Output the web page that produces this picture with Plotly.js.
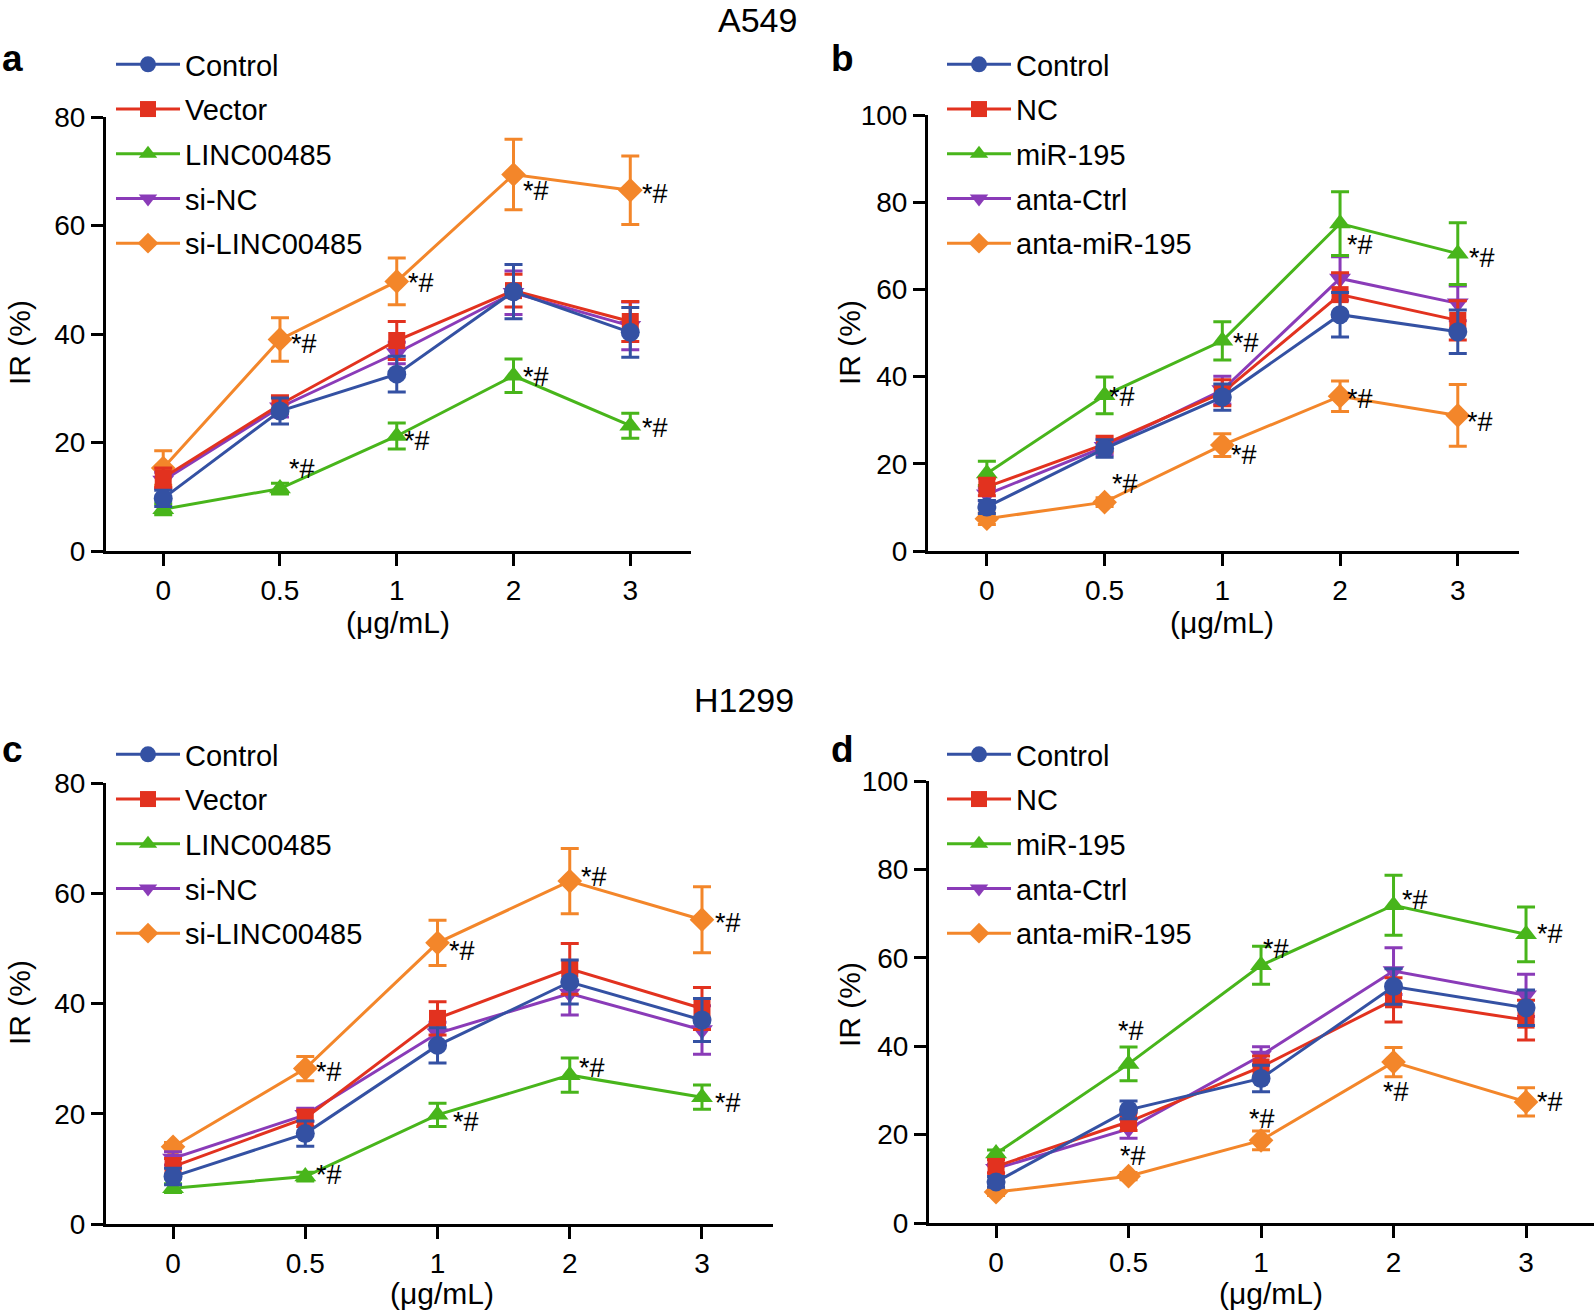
<!DOCTYPE html>
<html><head><meta charset="utf-8">
<script src="https://cdn.plot.ly/plotly-3.0.1.min.js"></script>
<style>html,body{margin:0;padding:0;background:#fff}#chart{width:1594px;height:1312px}</style>
</head><body><div id="chart"></div>
<script>
// ---------- data ----------
const doseLabels = ["0", "0.5", "1", "2", "3"];
const sigLabel = "*#";

// Panel a (A549, LINC00485)
const aNames = ["Control", "Vector", "LINC00485", "si-NC", "si-LINC00485"];
const aControl = [9.7, 25.8, 32.6, 47.8, 40.3];
const aControlErr = [1.5, 2.4, 3.3, 5.0, 4.6];
const aVector = [13.5, 27.0, 38.8, 48.0, 42.3];
const aVectorErr = [1.8, 1.6, 3.5, 3.0, 3.7];
const aLinc = [7.7, 11.5, 21.2, 32.3, 23.1];
const aLincErr = [1.0, 1.0, 2.4, 3.1, 2.3];
const aSiNC = [13.0, 26.5, 36.5, 47.6, 41.5];
const aSiNCErr = [1.5, 1.8, 2.0, 4.0, 4.4];
const aSiLinc = [15.3, 39.0, 49.7, 69.4, 66.5];
const aSiLincErr = [3.2, 4.0, 4.3, 6.5, 6.3];

// Panel b (A549, miR-195)
const bNames = ["Control", "NC", "miR-195", "anta-Ctrl", "anta-miR-195"];
const bControl = [10.1, 23.5, 35.3, 54.2, 50.3];
const bControlErr = [1.5, 2.0, 3.0, 5.1, 5.0];
const bNC = [14.7, 24.5, 36.3, 58.8, 52.9];
const bNCErr = [2.0, 1.8, 3.0, 5.0, 4.5];
const bMiR = [17.8, 35.7, 48.2, 75.1, 68.2];
const bMiRErr = [2.8, 4.2, 4.4, 7.3, 7.1];
const bAntaCtrl = [13.0, 23.9, 36.9, 62.5, 56.8];
const bAntaCtrlErr = [1.5, 1.8, 3.2, 5.0, 4.0];
const bAntaMiR = [7.4, 11.2, 24.3, 35.5, 31.1];
const bAntaMiRErr = [1.3, 1.0, 2.6, 3.5, 7.1];

// Panel c (H1299, LINC00485)
const cNames = ["Control", "Vector", "LINC00485", "si-NC", "si-LINC00485"];
const cControl = [8.6, 16.4, 32.4, 43.9, 37.0];
const cControlErr = [1.5, 2.3, 3.2, 4.0, 3.9];
const cVector = [10.4, 19.2, 37.3, 46.3, 39.1];
const cVectorErr = [1.5, 1.5, 3.0, 4.6, 3.8];
const cLinc = [6.5, 8.6, 19.8, 27.0, 23.0];
const cLincErr = [0.8, 0.8, 2.1, 3.1, 2.2];
const cSiNC = [11.9, 19.8, 34.6, 41.8, 35.2];
const cSiNCErr = [1.2, 1.2, 2.0, 3.9, 4.4];
const cSiLinc = [14.0, 28.2, 51.0, 62.2, 55.2];
const cSiLincErr = [0.8, 2.2, 4.1, 5.9, 6.0];

// Panel d (H1299, miR-195)
const dNames = ["Control", "NC", "miR-195", "anta-Ctrl", "anta-miR-195"];
const dControl = [9.3, 25.6, 32.7, 53.5, 48.7];
const dControlErr = [1.2, 2.0, 3.0, 4.0, 4.0];
const dNC = [12.8, 22.9, 35.3, 50.5, 45.9];
const dNCErr = [1.5, 2.0, 2.5, 5.0, 4.5];
const dMiR = [15.7, 36.0, 58.3, 71.9, 65.3];
const dMiRErr = [0.8, 3.8, 4.3, 6.8, 6.2];
const dAntaCtrl = [12.3, 21.3, 37.9, 57.0, 51.5];
const dAntaCtrlErr = [1.0, 2.1, 2.0, 5.3, 4.8];
const dAntaMiR = [7.0, 10.6, 18.7, 36.4, 27.4];
const dAntaMiRErr = [0.8, 0.8, 2.1, 3.3, 3.2];

// points marked "*#" (indices into doseLabels), for series 2 and 4 in each panel
const sigPoints = [1, 2, 3, 4];

// ---------- styles ----------
const FONT = "Liberation Sans, Arial, Helvetica, sans-serif";
const colors = ["#3451a3", "#e2321f", "#48b51b", "#8a3bb8", "#f3862a"];
const symbols = ["circle", "square", "triangle-up", "triangle-down", "diamond"];
const msizes = [19, 17, 19, 19, 19];
// draw order: bottom -> top (index into series)
const drawOrder = [4, 3, 2, 1, 0];

// pixel shifts [xshift, yshift] for the "*#" marks, per panel, for series 2 and 4
const sigShift = {
  a: {2: [[22, 20], [20, -5], [22, -1], [25, -2]], 4: [[24, -5], [24, -2], [22, -16], [25, -4]]},
  b: {2: [[17, -2], [24, -2], [20, -21], [24, -4]], 4: [[20, 18], [22, -10], [20, -3], [22, -7]]},
  c: {2: [[24, 2], [28, -7], [22, 7], [26, -6]], 4: [[24, -3], [24, -8], [24, 4], [26, -3]]},
  d: {2: [[2, 33], [15, 16], [21, 5], [24, 0]], 4: [[4, 20], [1, 21], [2, -30], [24, 0]]}
};

const W = 1594, H = 1312;
const px = v => v / W;
const py = v => 1 - v / H;

const panels = [
  {key: "a", xa: "x", ya: "y", legend: "legend", names: aNames,
   vals: [aControl, aVector, aLinc, aSiNC, aSiLinc],
   errs: [aControlErr, aVectorErr, aLincErr, aSiNCErr, aSiLincErr],
   xdom: [106, 691], ydom: [117, 551], xr: [-0.49, 4.52], ymax: 80,
   leg: [111, 39], xt: [398, 622], yt: [19, 343], letter: [12, 59]},
  {key: "b", xa: "x2", ya: "y2", legend: "legend2", names: bNames,
   vals: [bControl, bNC, bMiR, bAntaCtrl, bAntaMiR],
   errs: [bControlErr, bNCErr, bMiRErr, bAntaCtrlErr, bAntaMiRErr],
   xdom: [928, 1519], ydom: [115, 551], xr: [-0.5, 4.52], ymax: 100,
   leg: [942, 39], xt: [1222, 622], yt: [849, 343], letter: [843, 59]},
  {key: "c", xa: "x3", ya: "y3", legend: "legend3", names: cNames,
   vals: [cControl, cVector, cLinc, cSiNC, cSiLinc],
   errs: [cControlErr, cVectorErr, cLincErr, cSiNCErr, cSiLincErr],
   xdom: [106, 773], ydom: [783, 1224], xr: [-0.507, 4.537], ymax: 80,
   leg: [111, 729], xt: [442, 1293], yt: [19, 1003], letter: [12, 749]},
  {key: "d", xa: "x4", ya: "y4", legend: "legend4", names: dNames,
   vals: [dControl, dNC, dMiR, dAntaCtrl, dAntaMiR],
   errs: [dControlErr, dNCErr, dMiRErr, dAntaCtrlErr, dAntaMiRErr],
   xdom: [929, 1594], ydom: [781, 1223], xr: [-0.506, 4.513], ymax: 100,
   leg: [942, 729], xt: [1271, 1293], yt: [849, 1005], letter: [843, 749]}
];

const xIdx = doseLabels.map((_, i) => i);
const traces = [];
const annotations = [];
const layout = {
  width: W, height: H,
  margin: {l: 0, r: 0, t: 0, b: 0},
  paper_bgcolor: "#fff", plot_bgcolor: "rgba(0,0,0,0)",
  font: {family: FONT, color: "#000", size: 28},
  showlegend: true,
  annotations: annotations
};

panels.forEach((p, pi) => {
  drawOrder.forEach(si => {
    traces.push({
      type: "scatter", mode: "lines+markers",
      x: xIdx, y: p.vals[si], name: p.names[si],
      xaxis: p.xa, yaxis: p.ya, legend: p.legend,
      legendgroup: p.key + si, legendrank: si,
      cliponaxis: false,
      line: {color: colors[si], width: 3},
      marker: {symbol: symbols[si], size: msizes[si], color: colors[si], line: {width: 0}},
      error_y: {type: "data", array: p.errs[si], visible: true, color: colors[si], thickness: 3, width: 9}
    });
  });
  [2, 4].forEach(si => {
    sigPoints.forEach((idx, k) => {
      const sh = sigShift[p.key][si][k];
      annotations.push({
        xref: p.xa, yref: p.ya, x: idx, y: p.vals[si][idx],
        text: sigLabel, showarrow: false, xshift: sh[0], yshift: sh[1],
        font: {family: FONT, size: 27, color: "#000"}
      });
    });
  });
  const axN = pi === 0 ? "" : String(pi + 1);
  layout["xaxis" + axN] = {
    domain: [px(p.xdom[0]), px(p.xdom[1])], range: p.xr, anchor: p.ya,
    tickmode: "array", tickvals: xIdx, ticktext: doseLabels,
    showline: true, linecolor: "#000", linewidth: 3, mirror: false,
    ticks: "outside", ticklen: 12, tickwidth: 3, tickcolor: "#000",
    ticklabelstandoff: 0,
    showgrid: false, zeroline: false, fixedrange: true,
    tickfont: {family: FONT, size: 28, color: "#000"}
  };
  layout["yaxis" + axN] = {
    domain: [py(p.ydom[1]), py(p.ydom[0])], range: [0, p.ymax], anchor: p.xa,
    dtick: 20, tick0: 0,
    showline: true, linecolor: "#000", linewidth: 3,
    ticks: "outside", ticklen: 12, tickwidth: 3, tickcolor: "#000",
    ticklabelstandoff: 0,
    showgrid: false, zeroline: false, fixedrange: true,
    tickfont: {family: FONT, size: 28, color: "#000"}
  };
  layout[p.legend] = {
    x: px(p.leg[0]), y: py(p.leg[1]), xanchor: "left", yanchor: "top",
    bgcolor: "rgba(0,0,0,0)", borderwidth: 0,
    font: {family: FONT, size: 29, color: "#000"},
    traceorder: "grouped", tracegroupgap: 4, itemwidth: 64
  };
  // axis titles and panel letters
  annotations.push({xref: "paper", yref: "paper", x: px(p.xt[0]), y: py(p.xt[1]),
    text: "(μg/mL)", showarrow: false, xanchor: "center", yanchor: "middle",
    font: {family: FONT, size: 30, color: "#000"}});
  annotations.push({xref: "paper", yref: "paper", x: px(p.yt[0]), y: py(p.yt[1]),
    text: "IR (%)", textangle: -90, showarrow: false, xanchor: "center", yanchor: "middle",
    font: {family: FONT, size: 30, color: "#000"}});
  annotations.push({xref: "paper", yref: "paper", x: px(p.letter[0]), y: py(p.letter[1]),
    text: "<b>" + p.key + "</b>", showarrow: false, xanchor: "center", yanchor: "middle",
    font: {family: FONT, size: 37, color: "#000"}});
});

annotations.push({xref: "paper", yref: "paper", x: px(757), y: py(20), text: "A549",
  showarrow: false, xanchor: "center", yanchor: "middle", font: {family: FONT, size: 34, color: "#000"}});
annotations.push({xref: "paper", yref: "paper", x: px(744), y: py(700), text: "H1299",
  showarrow: false, xanchor: "center", yanchor: "middle", font: {family: FONT, size: 34, color: "#000"}});

Plotly.newPlot("chart", traces, layout, {staticPlot: true, displayModeBar: false});
</script>
</body></html>
